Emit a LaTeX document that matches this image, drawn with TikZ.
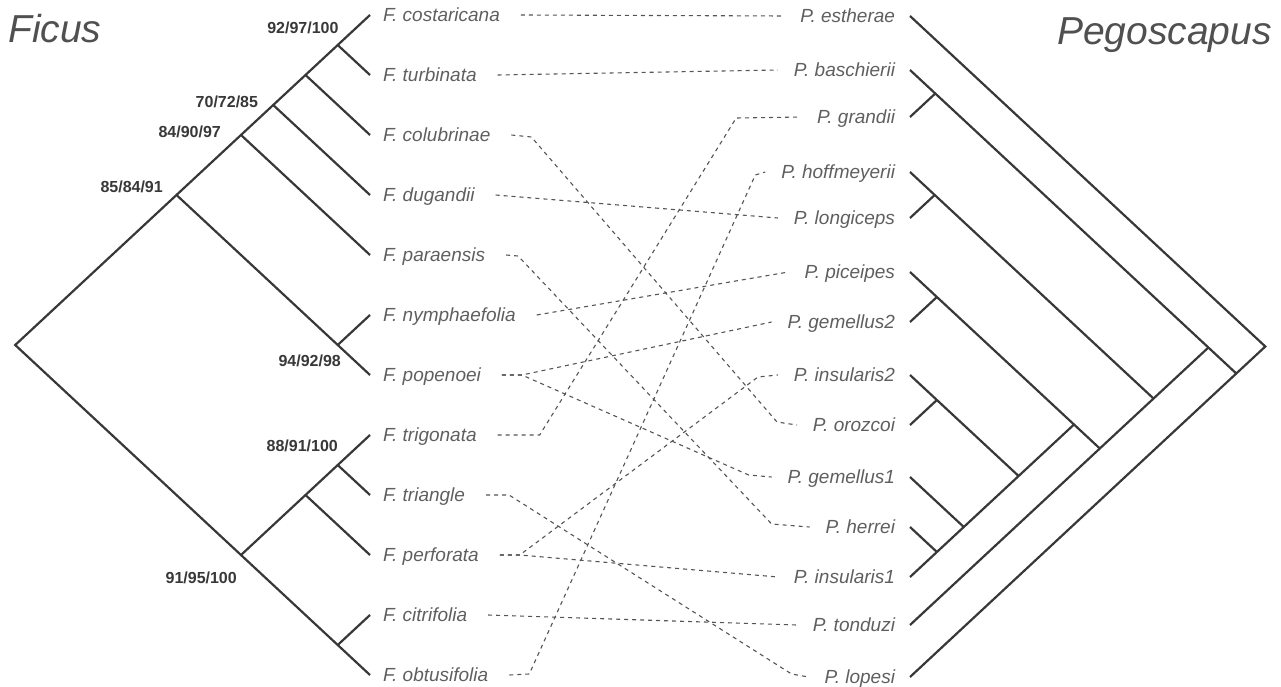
\documentclass[tikz,border=0pt]{standalone}
\usepackage{fontspec}
\setmainfont{Liberation Sans}
\usetikzlibrary{positioning,calc}
\definecolor{TreeGray}{RGB}{56,56,56}
\definecolor{LabelGray}{RGB}{95,95,95}
\definecolor{GenusGray}{RGB}{80,80,80}
\definecolor{LinkGray}{RGB}{85,85,85}

\begin{document}
\begin{tikzpicture}[x=1pt,y=-1pt,
    branch/.style={line width=2.2pt, TreeGray},
    link/.style={LinkGray, line width=1.1pt, dash pattern=on 4pt off 4pt},
    figlabel/.style={anchor=west, inner sep=0pt, outer xsep=21pt, text height=13.6pt, text depth=0pt,
      font=\fontsize{19}{22}\selectfont\itshape, text=LabelGray},
    wasplabel/.style={figlabel, anchor=east, outer xsep=16pt},
    boot/.style={anchor=east, inner sep=0pt, font=\fontsize{16}{18}\selectfont\bfseries, text=TreeGray},
    genus/.style={anchor=base west, inner sep=0pt, font=\fontsize{39}{44}\selectfont\itshape, text=GenusGray}]
  \useasboundingbox (0,0) rectangle (1281,687);

  % genus titles
  \node[genus] (ficus) at (8,43) {Ficus};
  \node[genus] (pego) at (1057,45) {Pegoscapus};

  % Ficus tips and labels
  \foreach \i/\y/\sp in {1/15/costaricana, 2/75/turbinata, 3/135/colubrinae, 4/195/dugandii,
      5/255/paraensis, 6/315/nymphaefolia, 7/375/popenoei, 8/435/trigonata,
      9/495/triangle, 10/555/perforata, 11/615/citrifolia, 12/675/obtusifolia} {
    \coordinate (tf\i) at (370,\y);
    \node[figlabel] (f\i) at (362,\y) {F. \sp};
  }

  % Pegoscapus tips and labels
  \foreach \i/\y/\sp in {1/16/estherae, 2/70/baschierii, 3/117/grandii, 4/172/hoffmeyerii,
      5/218/longiceps, 6/272/piceipes, 7/322/gemellus2, 8/375/insularis2,
      9/425/orozcoi, 10/477/gemellus1, 11/527/herrei, 12/577/insularis1,
      13/625/tonduzi, 14/677/lopesi} {
    \coordinate (tp\i) at (910,\y);
    \node[wasplabel] (p\i) at (911,\y) {P. \sp};
  }

  % Ficus tree
  \coordinate (fRoot) at (15.2,345);
  \coordinate (fA) at (176.5,195);
  \coordinate (fB) at (241,135);
  \coordinate (fC) at (273.2,105);
  \coordinate (fD) at (305.5,75);
  \coordinate (fE) at (337.7,45);
  \coordinate (fN) at (337.7,345);
  \coordinate (fF) at (241,555);
  \coordinate (fG) at (305.5,495);
  \coordinate (fH) at (337.7,465);
  \coordinate (fK) at (337.7,645);
  \draw[branch] (tf1) -- (fRoot) -- (tf12);
  \draw[branch] (tf2) -- (fE);
  \draw[branch] (tf3) -- (fD);
  \draw[branch] (tf4) -- (fC);
  \draw[branch] (tf5) -- (fB);
  \draw[branch] (tf6) -- (fN);
  \draw[branch] (tf7) -- (fA);
  \draw[branch] (tf8) -- (fF);
  \draw[branch] (tf9) -- (fH);
  \draw[branch] (tf10) -- (fG);
  \draw[branch] (tf11) -- (fK);

  % support values
  \node[boot] (bE) at ($(fE)+(1,-17.5)$) {92/97/100};
  \node[boot] (bC) at ($(fC)+(-15,-3.5)$) {70/72/85};
  \node[boot] (bB) at ($(fB)+(-20,-3)$) {84/90/97};
  \node[boot] (bA) at ($(fA)+(-13.5,-8)$) {85/84/91};
  \node[boot] (bN) at ($(fN)+(3.3,16)$) {94/92/98};
  \node[boot] (bH) at ($(fH)+(0.3,-19)$) {88/91/100};
  \node[boot] (bF) at ($(fF)+(-4,22.5)$) {91/95/100};

  % Pegoscapus tree
  \coordinate (pRoot) at (1265.3,346.5);
  \coordinate (pX1) at (1236.3,373.5);
  \coordinate (pX2) at (1208.4,347.5);
  \coordinate (pX3) at (1153.5,398.5);
  \coordinate (pX4) at (1099.8,448.5);
  \coordinate (pX5) at (1074,424.5);
  \coordinate (pX6) at (1018.6,476);
  \coordinate (pX7) at (963.8,527);
  \coordinate (pBG) at (935.3,93.5);
  \coordinate (pHL) at (934.7,195);
  \coordinate (pPG) at (936.9,297);
  \coordinate (pIO) at (936.9,400);
  \coordinate (pHI) at (936.9,552);
  \draw[branch] (tp1) -- (pRoot) -- (tp14);
  \draw[branch] (tp2) -- (pX1);
  \draw[branch] (tp3) -- (pBG);
  \draw[branch] (tp4) -- (pX3);
  \draw[branch] (tp5) -- (pHL);
  \draw[branch] (tp6) -- (pX4);
  \draw[branch] (tp7) -- (pPG);
  \draw[branch] (tp8) -- (pX6);
  \draw[branch] (tp9) -- (pIO);
  \draw[branch] (tp10) -- (pX7);
  \draw[branch] (tp11) -- (pHI);
  \draw[branch] (tp12) -- (pX5);
  \draw[branch] (tp13) -- (pX2);

  % host--wasp associations
  \draw[link] (f1.east) -- (p1.west);
  \draw[link] (f2.east) -- (p2.west);
  \draw[link] (f3.east) -- ++(20,2) -- ($(p9.west)+(-20,-3)$) -- (p9.west);
  \draw[link] (f4.east) -- (p5.west);
  \draw[link] (f5.east) -- ++(12,1) -- ($(p11.west)+(-38,-3)$) -- (p11.west);
  \draw[link] (f6.east) -- (p6.west);
  \draw[link] (f7.east) -- ++(20,0) -- (p7.west);
  \draw[link] (f7.east) -- ++(20,0) -- ($(p10.west)+(-23,-2)$) -- (p10.west);
  \draw[link] (f8.east) -- ++(42,0) -- ($(p3.west)+(-65,1)$) -- (p3.west);
  \draw[link] (f9.east) -- ++(23,0) -- ($(p14.west)+(-17,-3)$) -- (p14.west);
  \draw[link] (f10.east) -- ++(20,0) -- ($(p8.west)+(-20,2)$) -- (p8.west);
  \draw[link] (f10.east) -- ++(20,0) -- (p12.west);
  \draw[link] (f11.east) -- (p13.west);
  \draw[link] (f12.east) -- ++(20,-1) -- ($(p4.west)+(-10,3)$) -- (p4.west);
\end{tikzpicture}
\end{document}
